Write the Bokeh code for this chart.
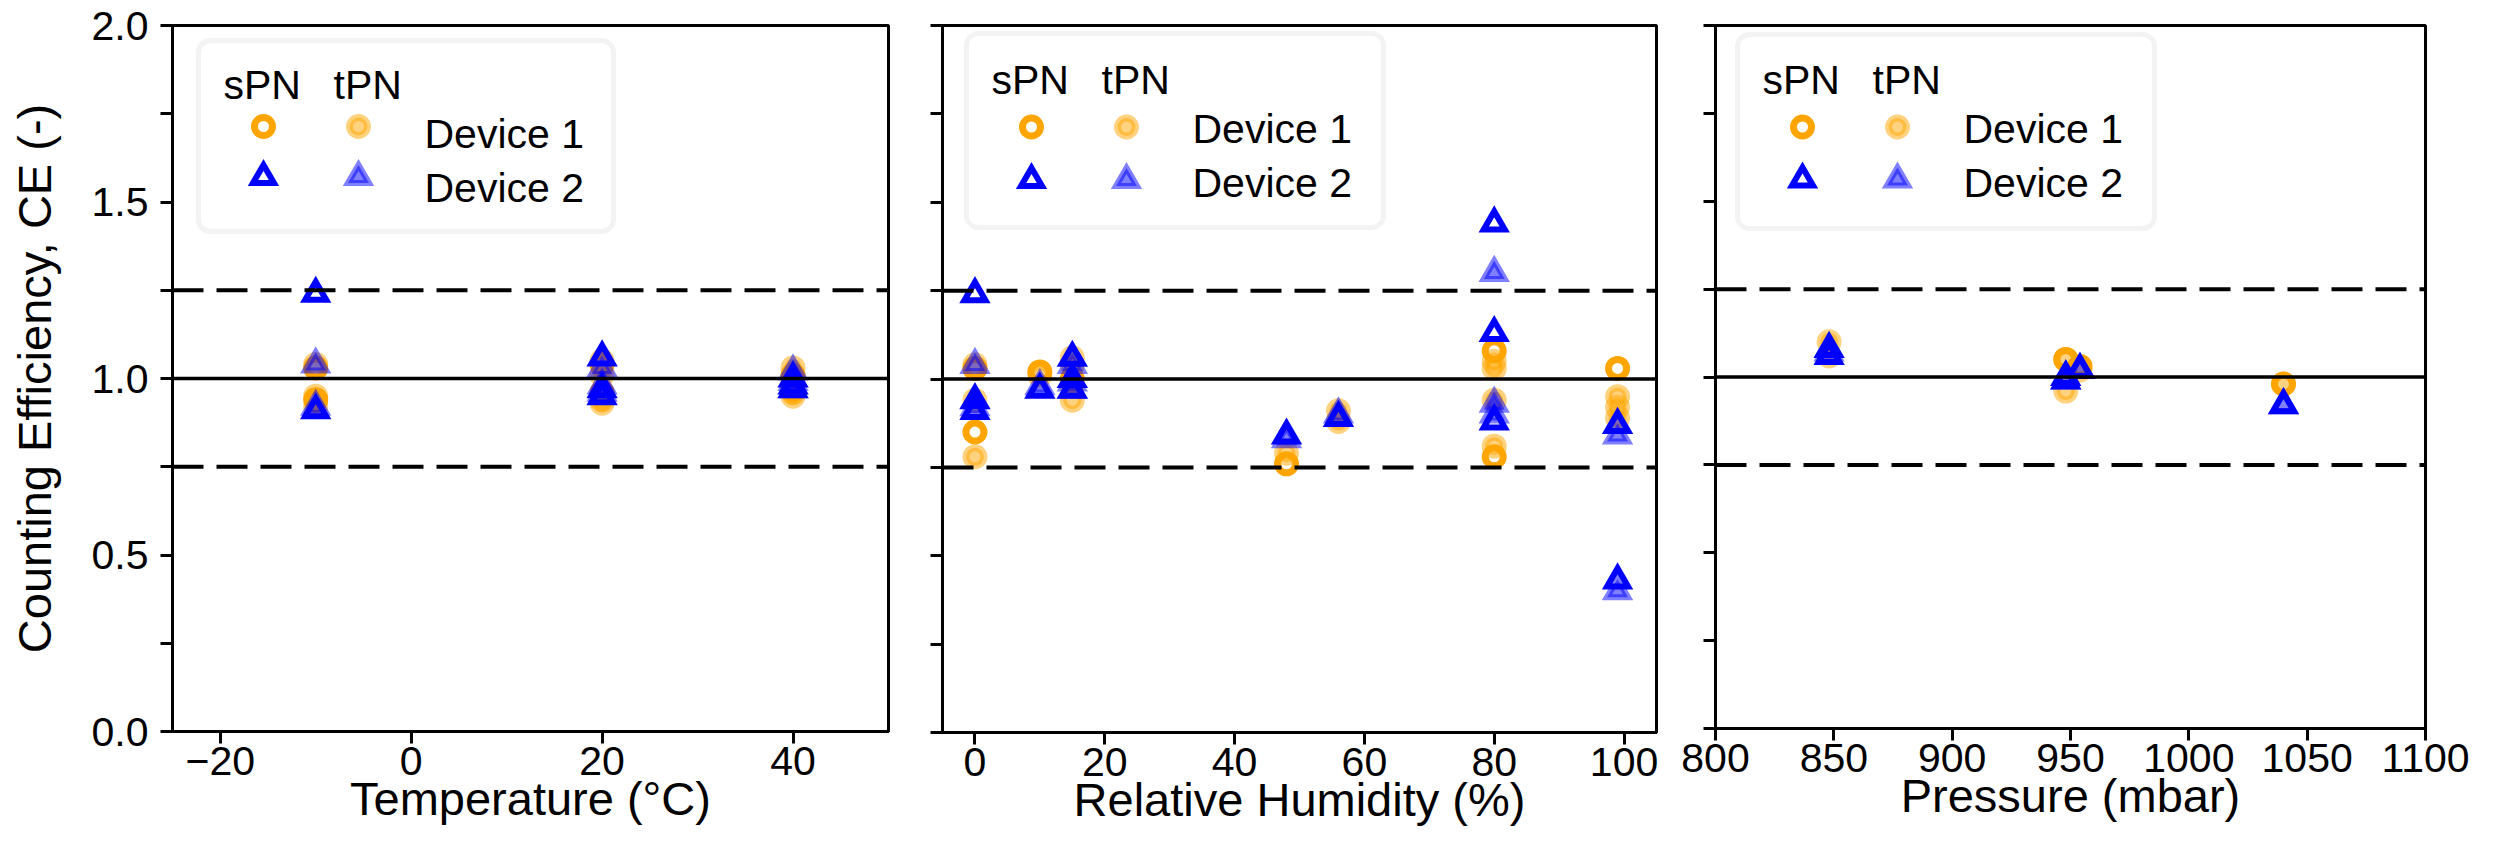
from bokeh.plotting import figure
from bokeh.models import (Range1d, FixedTicker, NumeralTickFormatter, Span, BoxAnnotation,
                          CustomJSTickFormatter)
from bokeh.layouts import row
from bokeh.embed import file_html
from bokeh.resources import INLINE
from bokeh.core.properties import value

FONT = "Liberation Sans"
ORANGE = "#FFA500"
BLUE = "#0000FF"

# ---------------- data ----------------
# Panel 1: temperature (°C)
temp_s1_x = [-10, -10, 20, 20, 40, 40]
temp_s1_y = [1.03, 0.94, 1.04, 0.96, 1.01, 0.97]
temp_t1_x = [-10, -10, -10, 20, 20, 20, 20, 40, 40, 40, 40]
temp_t1_y = [1.04, 0.95, 0.92, 1.05, 1.01, 0.94, 0.93, 1.03, 1.00, 0.96, 0.95]
temp_s2_x = [-10, -10, 20, 20, 20, 40, 40, 40]
temp_s2_y = [1.24, 0.91, 1.06, 0.97, 0.95, 1.00, 0.98, 0.97]
temp_t2_x = [-10, -10, 20, 20, 20, 40, 40, 40]
temp_t2_y = [1.04, 0.92, 1.03, 0.98, 0.96, 1.02, 0.99, 0.97]

# Panel 2: relative humidity (%)
rh_s1_x = [0, 0, 10, 15, 48, 80, 80, 99]
rh_s1_y = [0.85, 1.03, 1.02, 1.00, 0.76, 1.08, 0.78, 1.03]
rh_t1_x = [0, 0, 0, 10, 15, 15, 15, 15, 48, 56, 56, 80, 80, 80, 80, 99, 99, 99]
rh_t1_y = [1.04, 0.94, 0.78, 1.01, 1.06, 1.04, 0.98, 0.94, 0.79, 0.91, 0.88,
           1.05, 1.03, 0.94, 0.81, 0.95, 0.92, 0.89]
rh_s2_x = [0, 0, 0, 10, 15, 15, 15, 48, 56, 80, 80, 80, 99, 99]
rh_s2_y = [1.24, 0.94, 0.91, 0.97, 1.06, 1.00, 0.97, 0.84, 0.89, 1.44, 1.13, 0.88, 0.87, 0.43]
rh_t2_x = [0, 0, 10, 15, 15, 15, 48, 56, 80, 80, 80, 99, 99]
rh_t2_y = [1.04, 0.92, 0.98, 1.04, 0.99, 0.97, 0.83, 0.90, 1.30, 0.93, 0.90, 0.84, 0.40]

# Panel 3: pressure (mbar)
pr_s1_x = [948, 954, 1040]
pr_s1_y = [1.05, 1.03, 0.98]
pr_t1_x = [848, 848, 948, 948, 954, 1040]
pr_t1_y = [1.10, 1.06, 1.05, 0.96, 1.02, 0.98]
pr_s2_x = [848, 848, 948, 948, 954, 1040]
pr_s2_y = [1.08, 1.06, 1.00, 0.99, 1.02, 0.92]
pr_t2_x = [848, 948, 954, 1040]
pr_t2_y = [1.07, 0.99, 1.02, 0.92]

y_label = "Counting Efficiency, CE (-)"
x_labels = ["Temperature (°C)", "Relative Humidity (%)", "Pressure (mbar)"]
x_ticks = [[-20, 0, 20, 40], [0, 20, 40, 60, 80, 100], [800, 850, 900, 950, 1000, 1050, 1100]]
x_ranges = [(-25, 50), (-5, 105), (800, 1100)]
y_major = [0.0, 0.5, 1.0, 1.5, 2.0]
y_minor = [0.25, 0.75, 1.25, 1.75]
ref_solid = 1.0
ref_dashed = [0.75, 1.25]
legend_header = ["sPN", "tPN"]
legend_rows = ["Device 1", "Device 2"]

# ---------------- styling ----------------
TICK_FS = "41px"
LABEL_FS = "47px"
CIRC = dict(size=18, line_width=7)
TRI = dict(size=21, line_width=6)


def open_style(color):
    return dict(fill_alpha=0, line_color=color, line_alpha=1.0, line_join="miter")


def semi_style(color):
    return dict(fill_color=color, fill_alpha=0.5, line_color=color, line_alpha=0.5, line_join="miter")


def make_panel(idx, series, fw, fh, bl, br, bt, bb, frame_lt, box, lg_y):
    xr = x_ranges[idx]
    p = figure(frame_width=fw, frame_height=fh,
               x_range=Range1d(*xr), y_range=Range1d(0, 2),
               output_backend="svg", toolbar_location=None,
               min_border_left=bl, min_border_right=br,
               min_border_top=bt, min_border_bottom=bb,
               background_fill_color="white", border_fill_color="white")
    p.grid.visible = False
    p.outline_line_color = "black"
    p.outline_line_width = 3
    p.outline_line_alpha = 1

    for ax in (p.xaxis[0], p.yaxis[0]):
        ax.axis_line_width = 3
        ax.axis_line_color = "black"
        ax.major_tick_line_width = 3
        ax.minor_tick_line_width = 3
        ax.major_tick_out = 12
        ax.major_tick_in = 0
        ax.minor_tick_out = 12
        ax.minor_tick_in = 0
        ax.major_label_text_font = FONT
        ax.major_label_text_font_size = TICK_FS
        ax.major_label_text_color = "black"
        ax.axis_label_text_font = FONT
        ax.axis_label_text_font_size = LABEL_FS
        ax.axis_label_text_font_style = "normal"
        ax.axis_label_text_color = "black"
    p.xaxis.ticker = FixedTicker(ticks=x_ticks[idx], minor_ticks=[])
    p.xaxis.axis_label = x_labels[idx]
    p.xaxis.major_label_standoff = 3
    p.xaxis.axis_label_standoff = -6
    if idx == 0:
        p.xaxis.major_label_overrides = {-20: "\u221220"}
    p.yaxis.ticker = FixedTicker(ticks=y_major, minor_ticks=y_minor)
    p.yaxis.major_label_standoff = 12
    if idx == 0:
        p.yaxis.formatter = NumeralTickFormatter(format="0.0")
        p.yaxis.axis_label = y_label
        p.yaxis.axis_label_standoff = 28
    else:
        p.yaxis.formatter = CustomJSTickFormatter(code="return ''")
        p.yaxis.major_label_standoff = 0

    s1x, s1y, t1x, t1y, s2x, s2y, t2x, t2y = series
    p.scatter(s1x, s1y, marker="circle", **CIRC, **open_style(ORANGE))
    p.scatter(t1x, t1y, marker="circle", **CIRC, **semi_style(ORANGE))
    p.scatter(t2x, t2y, marker="triangle", **TRI, **semi_style(BLUE))
    p.scatter(s2x, s2y, marker="triangle", **TRI, **open_style(BLUE))

    p.add_layout(Span(location=ref_solid, dimension="width", line_color="black", line_width=3.5))
    for loc in ref_dashed:
        p.add_layout(Span(location=loc, dimension="width", line_color="black",
                          line_width=4, line_dash="31 13"))

    # legend placed by pixel offsets inside the frame
    fl, ft = frame_lt
    x0, x1 = xr

    def X(px):
        return x0 + (px - fl) / fw * (x1 - x0)

    def Y(py):
        return 2 - (py - ft) / fh * 2

    bx0, by0, bx1, by1 = box
    hy, d1y, d2y, cy, ty = lg_y
    p.add_layout(BoxAnnotation(left=X(bx0), right=X(bx1), top=Y(by0), bottom=Y(by1),
                               fill_color="white", fill_alpha=0.85,
                               line_color="#d6d6d6", line_width=5, border_radius=12,
                               level="annotation", editable=False))
    hdr = p.text(x=[X(bx0 + 25), X(bx0 + 135)], y=[Y(hy), Y(hy)], text=legend_header,
                 text_font=value(FONT), text_font_size=TICK_FS, text_color="black",
                 text_baseline="middle", text_align="left")
    rows_t = p.text(x=[X(bx0 + 226), X(bx0 + 226)], y=[Y(d1y), Y(d2y)], text=legend_rows,
                    text_font=value(FONT), text_font_size=TICK_FS, text_color="black",
                    text_baseline="middle", text_align="left")
    m1 = p.scatter([X(bx0 + 65)], [Y(cy)], marker="circle", **CIRC, **open_style(ORANGE))
    m2 = p.scatter([X(bx0 + 160)], [Y(cy)], marker="circle", **CIRC, **semi_style(ORANGE))
    m3 = p.scatter([X(bx0 + 65)], [Y(ty)], marker="triangle", **TRI, **open_style(BLUE))
    m4 = p.scatter([X(bx0 + 160)], [Y(ty)], marker="triangle", **TRI, **semi_style(BLUE))
    for r in (hdr, rows_t, m1, m2, m3, m4):
        r.level = "overlay"
    return p


p1 = make_panel(0, (temp_s1_x, temp_s1_y, temp_t1_x, temp_t1_y,
                    temp_s2_x, temp_s2_y, temp_t2_x, temp_t2_y),
                fw=716, fh=706, bl=172, br=20, bt=25, bb=105,
                frame_lt=(172, 25), box=(198, 40, 613, 231),
                lg_y=(84, 133, 187.5, 126, 176.5))
p2 = make_panel(1, (rh_s1_x, rh_s1_y, rh_t1_x, rh_t1_y,
                    rh_s2_x, rh_s2_y, rh_t2_x, rh_t2_y),
                fw=714, fh=707, bl=34, br=20, bt=25, bb=104,
                frame_lt=(942, 25), box=(966, 33, 1383, 227),
                lg_y=(79, 128, 182, 126.5, 179.5))
p3 = make_panel(2, (pr_s1_x, pr_s1_y, pr_t1_x, pr_t1_y,
                    pr_s2_x, pr_s2_y, pr_t2_x, pr_t2_y),
                fw=710, fh=703, bl=39, br=50, bt=25, bb=108,
                frame_lt=(1715, 25), box=(1737, 34, 2154, 228),
                lg_y=(79, 128, 182, 126.5, 179))

layout = row(p1, p2, p3, spacing=0)
open("out.html", "w").write(file_html(layout, INLINE))
